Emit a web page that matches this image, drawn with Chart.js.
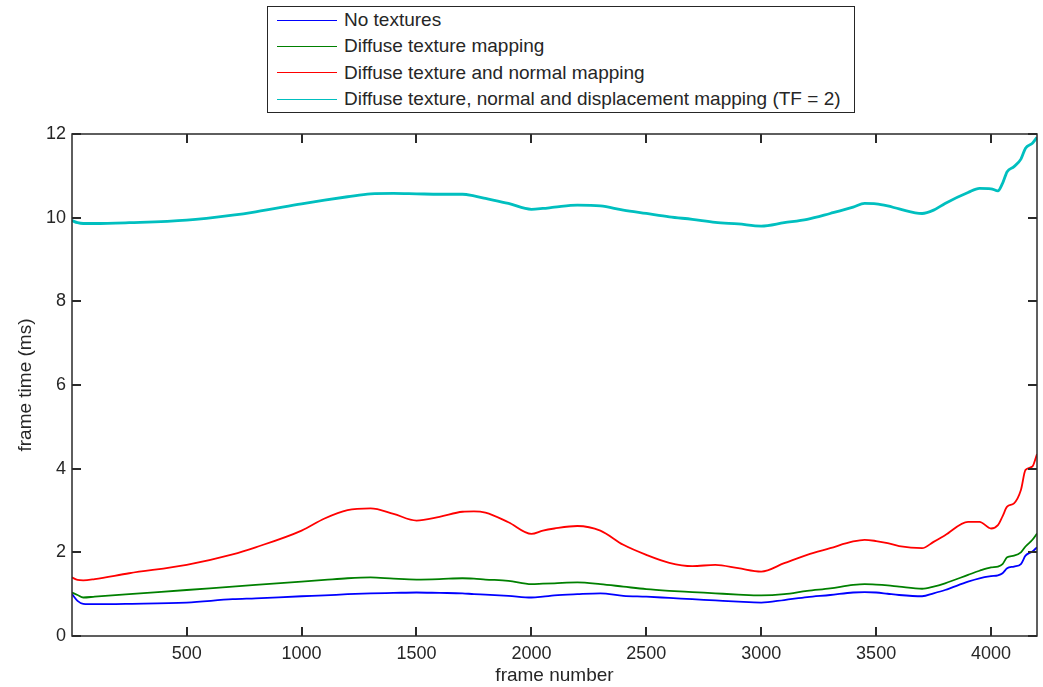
<!DOCTYPE html>
<html>
<head>
<meta charset="utf-8">
<script src="https://cdn.jsdelivr.net/npm/chart.js@4/dist/chart.umd.min.js"></script>
<style>
  html, body { margin: 0; padding: 0; background: #fff; }
  #wrap { position: relative; width: 1043px; height: 687px; }
  #legend {
    position: absolute; left: 267px; top: 6px; width: 588px; height: 107px;
    border: 1px solid #262626; box-sizing: border-box; background: #fff;
    font: 19px "Liberation Sans", Arial, sans-serif; color: #262626;
  }
  .row { position: absolute; left: 0; height: 26px; display: flex; align-items: center; white-space: nowrap; }
  .swatch { width: 60px; height: 0; border-top: 1.5px solid; margin-left: 9px; margin-right: 7px; }
</style>
</head>
<body>
<div id="wrap">
  <canvas id="c" width="1043" height="687"></canvas>
  <div id="legend"></div>
</div>
<script>
// Frame indices at which each curve is sampled
const frames = [1, 25, 50, 100, 250, 500, 700, 800, 1000, 1100, 1200, 1300, 1400, 1500, 1600, 1700, 1750, 1800, 1900, 2000, 2050, 2100, 2200, 2300, 2400, 2500, 2600, 2700, 2800, 2900, 3000, 3100, 3200, 3300, 3400, 3450, 3500, 3550, 3600, 3700, 3750, 3800, 3900, 3950, 4000, 4030, 4050, 4070, 4100, 4130, 4150, 4180, 4200];

// Frame time in milliseconds for each rendering mode
const noTextures = [1.00, 0.84, 0.77, 0.76, 0.77, 0.80, 0.88, 0.90, 0.95, 0.97, 1.00, 1.02, 1.03, 1.04, 1.03, 1.02, 1.00, 0.99, 0.96, 0.92, 0.94, 0.97, 1.00, 1.02, 0.96, 0.94, 0.91, 0.88, 0.85, 0.82, 0.80, 0.86, 0.93, 0.98, 1.04, 1.05, 1.04, 1.01, 0.98, 0.95, 1.02, 1.10, 1.30, 1.38, 1.43, 1.45, 1.50, 1.62, 1.66, 1.72, 1.92, 2.02, 2.12];
const diffuse = [1.04, 0.98, 0.92, 0.94, 1.00, 1.10, 1.18, 1.22, 1.30, 1.34, 1.38, 1.40, 1.37, 1.35, 1.36, 1.38, 1.37, 1.35, 1.32, 1.24, 1.25, 1.26, 1.28, 1.24, 1.18, 1.12, 1.08, 1.05, 1.02, 0.99, 0.97, 1.00, 1.08, 1.14, 1.22, 1.24, 1.23, 1.21, 1.18, 1.13, 1.18, 1.26, 1.46, 1.56, 1.64, 1.66, 1.72, 1.88, 1.92, 2.00, 2.14, 2.30, 2.45];
const diffuseNormal = [1.40, 1.34, 1.33, 1.36, 1.50, 1.70, 1.95, 2.12, 2.52, 2.81, 3.01, 3.05, 2.92, 2.76, 2.85, 2.97, 2.98, 2.95, 2.72, 2.44, 2.52, 2.57, 2.63, 2.52, 2.18, 1.94, 1.75, 1.67, 1.70, 1.62, 1.54, 1.74, 1.94, 2.10, 2.26, 2.30, 2.27, 2.22, 2.15, 2.10, 2.25, 2.41, 2.73, 2.73, 2.57, 2.65, 2.86, 3.09, 3.17, 3.49, 3.97, 4.05, 4.35];
const diffuseNormalDisp = [9.93, 9.88, 9.86, 9.86, 9.88, 9.94, 10.06, 10.14, 10.33, 10.42, 10.50, 10.57, 10.58, 10.57, 10.56, 10.56, 10.52, 10.46, 10.34, 10.20, 10.22, 10.25, 10.30, 10.28, 10.18, 10.10, 10.02, 9.96, 9.89, 9.85, 9.80, 9.88, 9.96, 10.10, 10.25, 10.34, 10.33, 10.28, 10.21, 10.10, 10.18, 10.34, 10.60, 10.70, 10.69, 10.64, 10.82, 11.10, 11.22, 11.40, 11.66, 11.78, 11.92];

const seriesLabels = [
  'No textures',
  'Diffuse texture mapping',
  'Diffuse texture and normal mapping',
  'Diffuse texture, normal and displacement mapping (TF = 2)'
];
const xTicks = [500, 1000, 1500, 2000, 2500, 3000, 3500, 4000];
const yTicks = [0, 2, 4, 6, 8, 10, 12];

const FONT = '"Liberation Sans", Arial, sans-serif';
const INK = '#262626';

function toPoints(values) {
  return frames.map((f, i) => ({ x: f, y: values[i] }));
}

// Box outline plus inward tick marks on all four sides
const axisFrame = {
  id: 'axisFrame',
  afterDatasetsDraw(chart) {
    const { ctx, chartArea: a, scales: { x, y } } = chart;
    const L = 9;
    ctx.save();
    ctx.strokeStyle = '#2a2a2a';
    ctx.lineWidth = 1.5;
    ctx.strokeRect(a.left, a.top, a.right - a.left, a.bottom - a.top);
    ctx.lineWidth = 2;
    ctx.beginPath();
    x.ticks.forEach(t => {
      const px = Math.round(x.getPixelForValue(t.value));
      ctx.moveTo(px, a.bottom); ctx.lineTo(px, a.bottom - L);
      ctx.moveTo(px, a.top); ctx.lineTo(px, a.top + L);
    });
    y.ticks.forEach(t => {
      const py = Math.round(y.getPixelForValue(t.value));
      ctx.moveTo(a.left, py); ctx.lineTo(a.left + L, py);
      ctx.moveTo(a.right, py); ctx.lineTo(a.right - L, py);
    });
    ctx.stroke();
    ctx.restore();
  }
};

const chart = new Chart(document.getElementById('c'), {
  type: 'line',
  data: {
    datasets: [
      { label: seriesLabels[0], data: toPoints(noTextures), borderColor: '#0000ff', borderWidth: 1.8 },
      { label: seriesLabels[1], data: toPoints(diffuse), borderColor: '#008000', borderWidth: 1.8 },
      { label: seriesLabels[2], data: toPoints(diffuseNormal), borderColor: '#ff0000', borderWidth: 1.8 },
      { label: seriesLabels[3], data: toPoints(diffuseNormalDisp), borderColor: '#00bfbf', borderWidth: 2.8 }
    ]
  },
  options: {
    responsive: false,
    animation: false,
    parsing: false,
    elements: {
      point: { radius: 0 },
      line: { cubicInterpolationMode: 'monotone', borderJoinStyle: 'round' }
    },
    layout: { padding: { top: 134, right: 6, bottom: 0, left: 0 } },
    plugins: { legend: { display: false }, tooltip: { enabled: false } },
    scales: {
      x: {
        type: 'linear',
        min: 1,
        max: 4200,
        afterBuildTicks: s => { s.ticks = xTicks.map(v => ({ value: v })); },
        afterFit: s => { s.height = 51; },
        grid: { display: false, drawTicks: false, tickLength: 0 },
        border: { display: false },
        ticks: { color: INK, padding: 7, maxRotation: 0, font: { family: FONT, size: 18 }, callback: v => String(v) },
        title: { display: true, text: 'frame number', color: INK, padding: { top: 0, bottom: 0 }, font: { family: FONT, size: 19 } }
      },
      y: {
        min: 0,
        max: 12,
        afterBuildTicks: s => { s.ticks = yTicks.map(v => ({ value: v })); },
        afterFit: s => { s.width = 72; },
        grid: { display: false, drawTicks: false, tickLength: 0 },
        border: { display: false },
        ticks: { color: INK, padding: 6, font: { family: FONT, size: 18 }, callback: v => String(v) },
        title: { display: true, text: 'frame time (ms)', color: INK, padding: { top: 14, bottom: 0 }, font: { family: FONT, size: 19 } }
      }
    }
  },
  plugins: [axisFrame]
});

// Legend box built from the chart's datasets
const legend = document.getElementById('legend');
chart.data.datasets.forEach((ds, i) => {
  const row = document.createElement('div');
  row.className = 'row';
  row.style.top = (0 + i * 26.4) + 'px';
  const sw = document.createElement('span');
  sw.className = 'swatch';
  sw.style.borderTopColor = ds.borderColor;
  const tx = document.createElement('span');
  tx.textContent = ds.label;
  row.appendChild(sw);
  row.appendChild(tx);
  legend.appendChild(row);
});
</script>
</body>
</html>
